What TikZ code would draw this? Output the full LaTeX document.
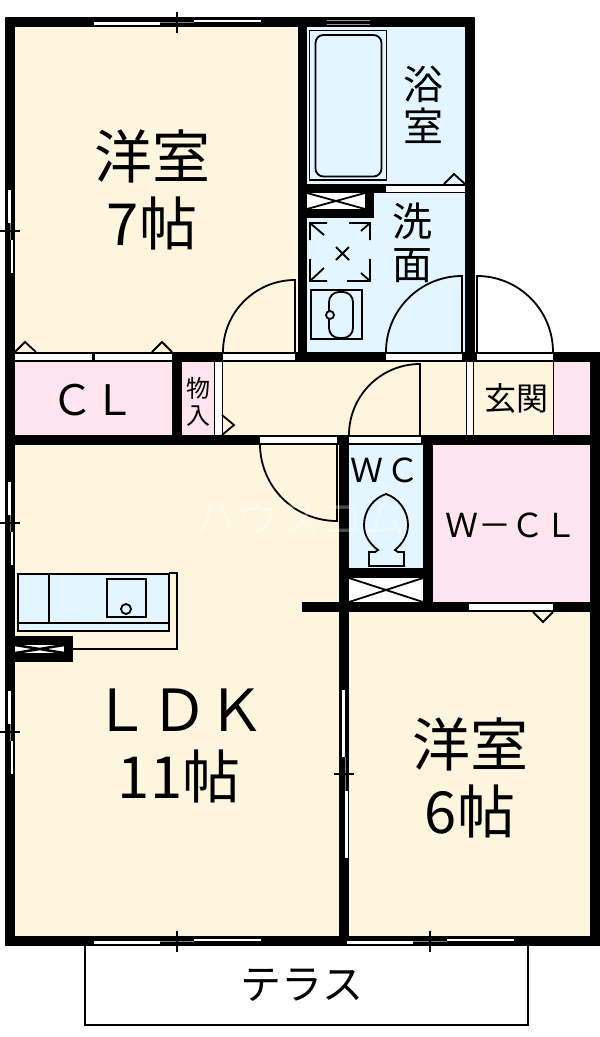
\documentclass[tikz,border=0pt]{standalone}
\usepackage{fontspec}
\setmainfont{Noto Sans CJK JP}
\usepackage{xcolor}
\definecolor{roomcream}{HTML}{FEF5DE}
\definecolor{roomblue}{HTML}{E3F5FE}
\definecolor{roompink}{HTML}{FEE4EE}
\tikzset{
  wall/.style={fill=black},
  strip/.style={fill=white},
  thinline/.style={draw=black,line width=1.8pt},
  bigtxt/.style={inner sep=0pt,align=center,font=\fontsize{58}{67}\selectfont},
  midtxt/.style={inner sep=0pt,align=center,font=\fontsize{40}{42}\selectfont},
}
\begin{document}
\begin{tikzpicture}[x=1pt,y=-1pt]
\useasboundingbox (0,0) rectangle (600,1037);
% Room floors
\foreach \xa/\ya/\xb/\yb/\col in {15/27/298/352/roomcream, 307/27/465/352/roomblue,
    15/362/172/435/roompink, 182/362/214/435/roompink, 222/362/554/435/roomcream,
    554/362/590/435/roompink, 15/445/339/936/roomcream, 349/445/423/568/roomblue,
    433/445/590/602/roompink, 349/612/590/936/roomcream} {
    \fill[\col] (\xa,\ya) rectangle (\xb,\yb);
}
% Walls
\foreach \xa/\ya/\xb/\yb in {5/17/475/27, 5/17/15/946, 298/17/307/362, 465/17/475/362,
    172/352/600/362, 590/352/600/946, 5/435/600/445, 5/936/600/946, 172/352/182/445,
    339/445/349/946, 423/445/433/612, 302/602/600/612, 349/568/423/578,
    307/184/465/193, 307/209/374/218, 365/184/374/218, 15/636/73/662, 5/352/172/362} {
    \fill[wall] (\xa,\ya) rectangle (\xb,\yb);
}
% Door and closet strips set in the walls
\foreach \xa/\ya/\xb/\yb in {15/354/92/360, 95/354/172/360, 223/354/295/360, 386/354/462/360,
    477/354/553/360, 260/437/337/443, 349/437/421/443, 469/604/553/610, 386/186/465/192,
    216/362/221/435, 467/362/472/435} {
    \fill[strip] (\xa,\ya) rectangle (\xb,\yb);
}
\draw[line width=1pt] (214.5,362) -- (214.5,435) (222,362) -- (222,435);
\draw[line width=1pt] (466,362) -- (466,435) (473,362) -- (473,435);
\draw[line width=1pt] (553.5,362) -- (553.5,435);
% Doors
\foreach \cx/\cy/\r/\a/\b in {295/352/72/180/270, 462/352/76/180/270, 477/352/76/360/270,
    420/435/71/180/270, 337/444/77/180/90} {
    \draw[thinline] (\cx,\cy) ++(\a:\r) arc (\a:\b:\r) -- (\cx,\cy);
}
% Windows
\foreach \cx/\cy in {177/22, 177/941, 430/941} {
    \fill[strip] (\cx-83,\cy) rectangle (\cx-17,\cy+2.5);
    \fill[strip] (\cx+17,\cy-2.5) rectangle (\cx+84,\cy);
    \draw[line width=1pt,gray] (\cx-17,\cy) -- (\cx+17,\cy);
    \draw[line width=1.5pt] (\cx,\cy-10) -- (\cx,\cy+11);
}
\foreach \cy in {231, 523, 732} {
    \fill[strip] (8,\cy-41) rectangle (10.5,\cy-8);
    \fill[strip] (10.5,\cy+9) rectangle (13,\cy+42);
    \draw[line width=1pt,gray] (10.5,\cy-8) -- (10.5,\cy+9);
    \draw[line width=1.5pt] (0,\cy) -- (20,\cy);
}
\fill[strip] (342,690) rectangle (345,757);
\fill[strip] (345,791) rectangle (347.5,858);
\draw[line width=1pt,gray] (345,757) -- (345,791);
\draw[line width=1.5pt] (334,774) -- (354,774);
% Vent in the bath wall
\draw[line width=1pt,gray!80] (327,20) -- (370,20) (327,24) -- (370,24);
% Closet hinges
\draw[thinline] (15,352) -- (25,342) -- (36,352);
\draw[thinline] (152,352) -- (162,342) -- (172,352);
\draw[thinline] (444,184) -- (454,174) -- (465,184);
\draw[thinline] (222,415) -- (234,425) -- (222,435);
\draw[thinline] (533,612) -- (543,622) -- (553,612);
% Boxes with a cross
\foreach \xa/\ya/\xb/\yb/\lw in {307/193/365/209/1.8, 349/578/423/602/1.8, 15/645/64/653/2.5} {
    \fill[strip] (\xa,\ya) rectangle (\xb,\yb);
    \draw[line width=\lw pt] (\xa,\ya) -- (\xb,\yb) (\xa,\yb) -- (\xb,\ya);
}
% Bath tub
\draw[thinline] (309.5,30.5) rectangle (386.5,180);
\draw[thinline,rounded corners=8pt] (315.5,35) rectangle (381.5,176.5);
% Washer pan
\draw[thinline] (327,223) -- (310,223) -- (310,240) (310,223) -- (324,235);
\draw[thinline] (349,223) -- (370,223) -- (370,240) (370,223) -- (361,231);
\draw[thinline] (327,281) -- (310,281) -- (310,259) (310,281) -- (324,268);
\draw[thinline] (347,281) -- (370,281) -- (370,259) (370,281) -- (361,273);
\draw[thinline] (336,247) -- (349,260) (336,260) -- (349,247);
% Wash basin
\draw[thinline] (311,290) rectangle (362,339);
\draw[thinline,rounded corners=10pt] (329,292) rectangle (353,338);
\draw[thinline,fill=roomblue] (330,315) circle (4);
% Toilet
\draw[thinline] (386,494) .. controls (374,498) and (364,510) .. (364,525)
    .. controls (364,536) and (370,544) .. (378,550) -- (375,552) -- (369,552)
    -- (369,566) -- (404,566) -- (404,552) -- (398,552) -- (395,550)
    .. controls (402,544) and (408,536) .. (408,525)
    .. controls (408,510) and (398,498) .. (386,494) -- cycle;
% Kitchen counter
\fill[roomblue] (18,574) rectangle (169,631);
\draw[thinline] (18,574) rectangle (169,631);
\draw[thinline] (18,623) -- (169,623) (49,574) -- (49,623);
\draw[thinline] (107,579) rectangle (146,617);
\draw[thinline] (126,609) circle (5);
\draw[thinline] (169,573) -- (177,573) -- (177,649) -- (73,649);
% Terrace
\draw[thinline] (85,946) -- (85,1025) -- (528,1025) -- (528,946);
% Labels
\node[bigtxt] (westroom) at (152,190) {洋室\\7帖};
\node[bigtxt] (ldkroom) at (179,746) {ＬＤＫ\\11帖};
\node[bigtxt] (eastroom) at (470,778) {洋室\\6帖};
\node[midtxt] (bathroom) at (423,105) {浴\\室};
\node[midtxt,font=\fontsize{40}{43}\selectfont] (washroom) at (412,243) {洗\\面};
\node[midtxt,font=\fontsize{42}{44}\selectfont] (closet) at (93,400) {ＣＬ};
\node[midtxt,font=\fontsize{24}{27}\selectfont] (store) at (198,402) {物\\入};
\node[midtxt,font=\fontsize{32}{34}\selectfont] (entry) at (516,398) {玄関};
\node[midtxt,font=\fontsize{33}{35}\selectfont] (toiletlabel) at (385,470) {Ｗ\hspace{3pt}Ｃ};
\node[midtxt,font=\fontsize{33}{35}\selectfont] (walkin) at (511,525) {Ｗ－ＣＬ};
\node[midtxt,font=\fontsize{41}{43}\selectfont] (terrace) at (302,985) {テラス};
\node[midtxt,text=white,opacity=.3,font=\fontsize{42}{44}\selectfont] (mark) at (300,518) {ハウスコム};
\end{tikzpicture}
\end{document}
